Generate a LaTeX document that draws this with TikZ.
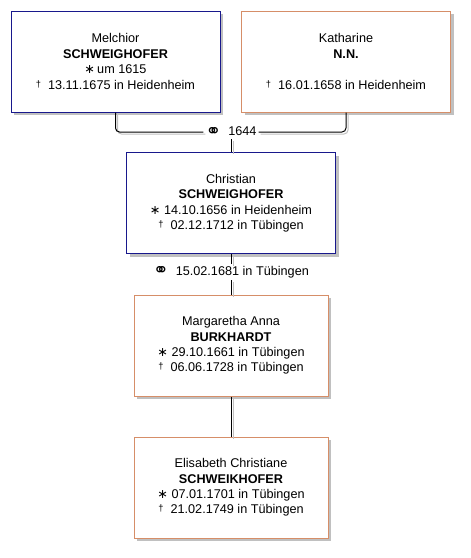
\documentclass[tikz,border=0pt]{standalone}
\usepackage{fontspec}
\setmainfont{Liberation Sans}
\newfontfamily\symbfont{DejaVu Sans}
\usetikzlibrary{shadows}
\definecolor{famman}{RGB}{24,24,140}
\definecolor{famwoman}{RGB}{214,142,104}
\definecolor{famshade}{RGB}{192,192,192}
\newcommand{\born}{{\symbfont\fontsize{9.5}{9.5}\selectfont ∗}\ }
\newcommand{\died}{\raisebox{0.3ex}{\fontsize{7}{7}\selectfont †}\ \ }
\newcommand{\wed}{\raisebox{-0.2ex}{\symbfont\fontsize{14}{14}\selectfont ⚭}\ \ }
\tikzset{
  person/.style={
    draw, fill=white, line width=0.75pt, align=center,
    minimum height=75.75pt, inner sep=2pt,
    font=\fontsize{9.5}{11.6}\selectfont,
    drop shadow={shadow xshift=2.25pt, shadow yshift=-2.25pt,
      fill=famshade, opacity=1}
  },
  man/.style={person, draw=famman},
  woman/.style={person, draw=famwoman},
  wide/.style={minimum width=156.75pt},
  narrow/.style={minimum width=145.5pt},
  marr/.style={font=\fontsize{9.5}{11.6}\selectfont, inner sep=1.5pt},
  link/.style={
    draw=black, line width=0.75pt, rounded corners=3pt,
    preaction={draw=famshade, line width=0.75pt,
      transform canvas={shift={(1.5pt,-1.5pt)}}}
  }
}
\begin{document}
\begin{tikzpicture}[x=0.75pt,y=-0.75pt]
  \useasboundingbox (0,0) rectangle (471,558);
  % parents
  \node[man, wide] (mel) at (115.5,61.5)
    {Melchior\\\textbf{SCHWEIGHOFER}\\{\symbfont\fontsize{9.5}{9.5}\selectfont ∗}\,um 1615\\\died 13.11.1675 in Heidenheim};
  \node[woman, wide] (kat) at (346,61.5)
    {Katharine\\\textbf{N.N.}\\\mbox{}\\\died 16.01.1658 in Heidenheim};
  \node[marr] (m1) at (231,132) {\wed 1644};
  % son and his wife
  \node[man, wide] (chr) at (231,203)
    {Christian\\\textbf{SCHWEIGHOFER}\\\born 14.10.1656 in Heidenheim\\\died 02.12.1712 in Tübingen};
  \node[marr] (m2) at (231,272) {\wed 15.02.1681 in Tübingen};
  \node[woman, narrow] (mar) at (231,345.5)
    {Margaretha Anna\\\textbf{BURKHARDT}\\\born 29.10.1661 in Tübingen\\\died 06.06.1728 in Tübingen};
  % daughter
  \node[woman, narrow] (eli) at (231,487.5)
    {Elisabeth Christiane\\\textbf{SCHWEIKHOFER}\\\born 07.01.1701 in Tübingen\\\died 21.02.1749 in Tübingen};
  \draw[link] (mel.south) |- (m1.west);
  \draw[link] (kat.south) |- (m1.east);
  \draw[link] (m1.south) -- (chr.north);
  \draw[link] (chr.south) -- (m2.north);
  \draw[link] (m2.south) -- (mar.north);
  \draw[link] (mar.south) -- (eli.north);
\end{tikzpicture}
\end{document}
